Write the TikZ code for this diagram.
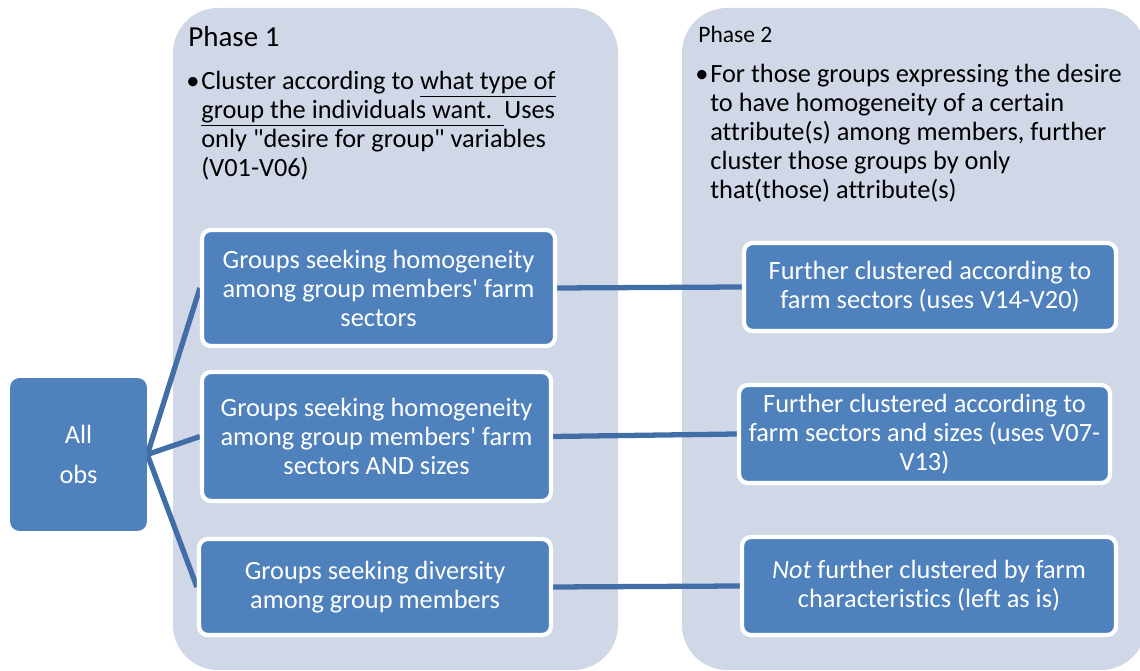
\documentclass[tikz,border=0pt]{standalone}
\usepackage{fontspec}
\setmainfont{Carlito}[Ligatures={TeX,NoCommon}]
\usetikzlibrary{positioning,backgrounds}

\definecolor{panelgray}{RGB}{208,216,232}
\definecolor{boxblue}{RGB}{79,129,189}
\definecolor{linkblue}{RGB}{66,110,168}
\newcommand{\bodyfont}{\fontsize{15pt}{16.5pt}\selectfont}

\begin{document}
\begin{tikzpicture}[x=0.02cm,y=-0.02cm,
  panel/.style={fill=panelgray,rounded corners=0.9cm},
  grp/.style={fill=boxblue,draw=white,line width=2.4pt,rounded corners=5pt,
    text=white,align=center,inner sep=2pt,font=\bodyfont},
  link/.style={draw=linkblue,line width=3pt}]
\useasboundingbox (0,0) rectangle (1140,671);

% phase headings
\node[anchor=base west,inner sep=0,font=\fontsize{16.5pt}{18pt}\selectfont] (ph1) at (188,47) {Phase 1};
\node[anchor=base west,inner sep=0,font=\fontsize{13.4pt}{15pt}\selectfont] (ph2) at (698,43) {Phase 2};
\node[anchor=north west,inner sep=0,align=left,font=\bodyfont] (ph1txt) at (201,71)
  {\llap{\textbullet\hspace{1pt}}Cluster according to \underline{what type of}\\
   \underline{group the individuals want.\ \ }Uses\\
   only \textquotedbl desire for group\textquotedbl{} variables\\
   (V01-V06)};
\node[anchor=north west,inner sep=0,align=left,font=\bodyfont] (ph2txt) at (710,64)
  {\llap{\textbullet\hspace{1pt}}For those groups expressing the desire\\
   to have homogeneity of a certain\\
   attribute(s) among members, further\\
   cluster those groups by only\\
   that(those) attribute(s)};

% start box
\node[fill=boxblue,rounded corners=5.5pt,text=white,align=center,font=\bodyfont,
  minimum width=2.74cm,minimum height=3.06cm] (allobs) at (78.5,454.5) {All\\[6pt]obs};

% phase 1 groups
\node[grp,minimum width=7.06cm,minimum height=2.32cm] (sect) at (378.5,288)
  {Groups seeking homogeneity\\ among group members\textquotesingle{} farm\\ sectors};
\node[grp,minimum width=6.98cm,minimum height=2.58cm] (sectsize) at (376.5,436.5)
  {Groups seeking homogeneity\\ among group members\textquotesingle{} farm\\ sectors AND sizes};
\node[grp,minimum width=7.04cm,minimum height=1.92cm] (divers) at (375,587)
  {Groups seeking diversity\\ among group members};

% phase 2 results
\node[grp,minimum width=7.44cm,minimum height=1.76cm] (fsect) at (930,287)
  {Further clustered according to\\ farm sectors (uses V14-V20)};
\node[grp,minimum width=7.42cm,minimum height=1.96cm] (fsectsize) at (924.5,434)
  {Further clustered according to\\ farm sectors and sizes (uses V07-\\ V13)};
\node[grp,minimum width=7.48cm,minimum height=1.96cm] (nofurther) at (929,586)
  {\textit{Not} further clustered by farm\\ characteristics (left as is)};

\begin{pgfonlayer}{background}
  \begin{scope}
    \clip (0,0) rectangle (1140,671);
    \fill[panel] (173,8) rectangle (618,670);
    \fill[panel] (682,8) rectangle (1146,670);
  \end{scope}
  \draw[link] (allobs.east) -- (sect.west);
  \draw[link] (allobs.east) -- (sectsize.west);
  \draw[link] (allobs.east) -- (divers.west);
  \draw[link] (sect.east) -- (fsect.west);
  \draw[link] (sectsize.east) -- (fsectsize.west);
  \draw[link] (divers.east) -- (nofurther.west);
\end{pgfonlayer}
\end{tikzpicture}
\end{document}
